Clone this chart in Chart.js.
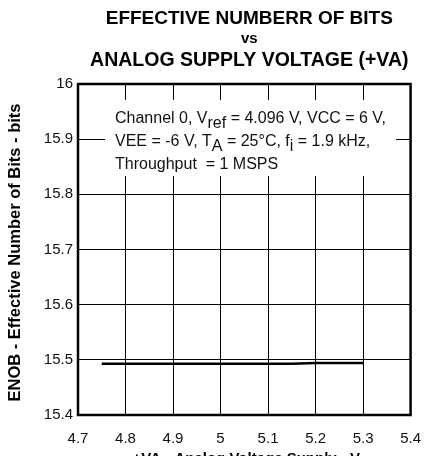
<!DOCTYPE html>
<html lang="en">
<head>
    <meta charset="UTF-8">
    <title>ENOB vs Analog Supply Voltage</title>
    <script src="https://cdn.jsdelivr.net/npm/chart.js"></script>
    <style>
        html, body { margin: 0; padding: 0; background: #fff; }
        #wrap { width: 436px; height: 456px; }
    </style>
</head>
<body>
    <div id="wrap"><canvas id="chartEnob" width="436" height="456"></canvas></div>

    <script>
        // Data
        const supplyVolts = [4.75, 4.9, 5.0, 5.1, 5.15, 5.2, 5.3];
        const enobBits = [15.493, 15.493, 15.493, 15.493, 15.493, 15.4942, 15.4942];

        const xTicks = [4.7, 4.8, 4.9, 5, 5.1, 5.2, 5.3, 5.4];
        const yTicks = [15.4, 15.5, 15.6, 15.7, 15.8, 15.9, 16];

        const titleLines = ['EFFECTIVE NUMBERR OF BITS', 'vs', 'ANALOG SUPPLY VOLTAGE (+VA)'];
        const xTitle = '+VA - Analog Voltage Supply - V';
        const yTitle = 'ENOB - Effective Number of Bits - bits';

        // conditions note: [text, subscript?]
        const noteLines = [
            [['Channel 0, V', false], ['ref', true], [' = 4.096 V, VCC = 6 V,', false]],
            [['VEE = -6 V, T', false], ['A', true], [' = 25\u00B0C, f', false], ['i', true], [' = 1.9 kHz,', false]],
            [['Throughput  = 1 MSPS', false]]
        ];

        const FONT = '"Liberation Sans", Arial, sans-serif';

        // titles, note box and frame
        const decorations = {
            id: 'decorations',
            beforeDatasetsDraw(chart) {
                const ctx = chart.ctx;
                const a = chart.chartArea;
                // white box behind the note, hides grid
                ctx.save();
                ctx.fillStyle = '#fff';
                ctx.fillRect(a.left + 27, a.top + 16, 291, 76);
                ctx.fillStyle = '#111';
                ctx.textBaseline = 'alphabetic';
                noteLines.forEach((line, i) => {
                    let x = a.left + 37;
                    const y = a.top + 39 + i * 23;
                    line.forEach(([txt, sub]) => {
                        ctx.font = '16px ' + FONT;
                        ctx.fillText(txt, x, sub ? y + 5 : y);
                        x += ctx.measureText(txt).width;
                    });
                });
                ctx.restore();
            },
            afterDraw(chart) {
                const ctx = chart.ctx;
                const a = chart.chartArea;
                const cx = (a.left + a.right) / 2 + 5;
                ctx.save();
                // frame
                ctx.strokeStyle = '#000';
                ctx.lineWidth = 2.5;
                ctx.strokeRect(a.left, a.top, a.right - a.left, a.bottom - a.top);

                ctx.fillStyle = '#000';
                ctx.textAlign = 'center';
                ctx.textBaseline = 'middle';
                ctx.font = 'bold 19px ' + FONT;
                ctx.fillText(titleLines[0], cx, 19);
                ctx.font = 'bold 15px ' + FONT;
                ctx.fillText(titleLines[1], cx, 39);
                ctx.font = 'bold 19.5px ' + FONT;
                ctx.fillText(titleLines[2], cx, 61);

                ctx.font = 'bold 15px ' + FONT;
                ctx.fillText(xTitle, cx - 3, 459);

                ctx.translate(15, (a.top + a.bottom) / 2 + 3);
                ctx.rotate(-Math.PI / 2);
                ctx.font = 'bold 16.5px ' + FONT;
                ctx.fillText(yTitle, 0, 0);
                ctx.restore();
            }
        };

        const ctxEnob = document.getElementById('chartEnob').getContext('2d');
        const chartEnob = new Chart(ctxEnob, {
            type: 'line',
            data: {
                datasets: [{
                    data: supplyVolts.map((v, i) => ({ x: v, y: enobBits[i] })),
                    borderColor: '#000',
                    borderWidth: 2.5,
                    pointRadius: 0,
                    tension: 0,
                    fill: false
                }]
            },
            options: {
                responsive: false,
                animation: false,
                layout: { padding: { top: 84, right: 24, left: 0, bottom: 0 } },
                plugins: {
                    legend: { display: false },
                    tooltip: { enabled: false },
                    title: { display: false }
                },
                scales: {
                    x: {
                        type: 'linear',
                        min: 4.7,
                        max: 5.4,
                        afterBuildTicks: (s) => { s.ticks = xTicks.map(v => ({ value: v })); },
                        afterFit: (s) => { s.height = 41; },
                        grid: { color: '#000', lineWidth: 1, drawTicks: false },
                        border: { display: false },
                        ticks: {
                            color: '#111',
                            padding: 15,
                            maxRotation: 0,
                            autoSkip: false,
                            font: { family: FONT, size: 15 },
                            callback: (v) => String(parseFloat(Number(v).toFixed(1)))
                        }
                    },
                    y: {
                        type: 'linear',
                        min: 15.4,
                        max: 16,
                        afterBuildTicks: (s) => { s.ticks = yTicks.map(v => ({ value: v })); },
                        afterFit: (s) => { s.width = 78; },
                        grid: { color: '#000', lineWidth: 1, drawTicks: false },
                        border: { display: false },
                        ticks: {
                            color: '#111',
                            padding: 5,
                            autoSkip: false,
                            font: { family: FONT, size: 15 },
                            callback: (v) => String(parseFloat(Number(v).toFixed(1)))
                        }
                    }
                }
            },
            plugins: [decorations]
        });
    </script>
</body>
</html>
